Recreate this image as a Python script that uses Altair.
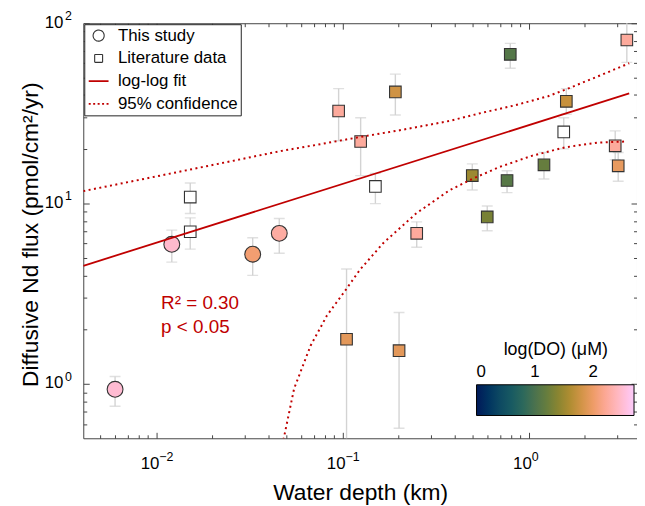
import altair as alt
import pandas as pd

# ---------------- data ----------------
# This study (circles)
STUDY_DEPTH = [0.006, 0.0121, 0.0329, 0.0457]
STUDY_FLUX = [0.934, 5.95, 5.24, 6.84]
STUDY_LO = [0.753, 4.74, 4.00, 5.31]
STUDY_HI = [1.10, 7.13, 6.47, 8.27]
STUDY_LOGDO = [2.50, 2.48, 2.05, 2.27]

# Literature data (squares); None = no DO value (white square)
LIT_DEPTH = [0.0152, 0.0152, 0.0952, 0.125, 0.150, 0.192, 0.25, 0.105, 0.201,
             0.497, 0.598, 0.764, 0.795, 1.206, 1.54, 1.59, 2.91, 3.02, 3.36]
LIT_FLUX = [10.87, 6.98, 32.6, 22.1, 12.45, 41.6, 6.84, 1.77, 1.53,
            14.3, 8.44, 13.43, 67.2, 16.4, 24.97, 36.9, 20.9, 16.2, 80.7]
LIT_LO = [8.81, 5.59, 22.3, 14.3, 10.0, 31.0, 5.73, 0.30, 0.568,
          11.9, 7.07, 11.5, 56.3, 13.7, 20.1, 31.3, 17.5, 13.3, 60.7]
LIT_HI = [13.0, 8.34, 43.4, 29.9, 14.7, 52.2, 7.92, 4.34, 2.49,
          16.6, 9.7, 15.2, 77.3, 19.2, 29.9, 43.4, 25.3, 19.2, 101.0]
LIT_LOGDO = [None, None, 2.24, 2.24, None, 1.78, 2.24, 1.92, 1.92,
             1.50, 1.30, 1.10, 1.08, 1.20, None, 1.73, 2.24, 1.95, 2.24]

# log-log fit (end points)
FIT_X = [0.00405, 3.46]
FIT_Y = [4.52, 40.8]

# 95% confidence curves
UPPER_X = [0.00405, 0.00918, 0.0208, 0.047, 0.073, 0.124, 0.2025, 0.3735,
           0.562, 0.846, 1.27, 1.62, 2.345, 3.46]
UPPER_Y = [11.73, 13.9, 16.5, 19.6, 21.2, 23.4, 25.5, 28.7,
           31.9, 35.1, 39.4, 43.4, 50.7, 60.0]
LOWER_X = [0.0462, 0.0549, 0.0673, 0.0825, 0.1012, 0.124, 0.165, 0.248,
           0.3735, 0.497, 0.689, 1.037, 1.56, 2.345, 3.39]
LOWER_Y = [0.40, 0.942, 1.63, 2.40, 3.20, 4.30, 6.03, 8.81,
           11.83, 13.7, 15.9, 18.4, 20.5, 21.8, 22.1]

# axis ticks
X_MAJOR = [0.01, 0.1, 1]
X_MINOR = [0.005, 0.006, 0.007, 0.008, 0.009,
           0.02, 0.03, 0.04, 0.05, 0.06, 0.07, 0.08, 0.09,
           0.2, 0.3, 0.4, 0.5, 0.6, 0.7, 0.8, 0.9, 2, 3]
Y_MAJOR = [1, 10, 100]
Y_MINOR = [0.6, 0.7, 0.8, 0.9, 2, 3, 4, 5, 6, 7, 8, 9,
           20, 30, 40, 50, 60, 70, 80, 90]

KINDS = ["This study", "Literature data", "log-log fit", "95% confidence"]
CBAR_TICKS = [0, 1, 2]
# batlow colormap stops
BATLOW = ["#011959", "#114360", "#226061", "#4D734D", "#828231",
          "#C09036", "#F19D6B", "#FDB4B4", "#FACCFA"]
CBAR_MAX = 2.7

# ---------------- tables ----------------
err_df = pd.DataFrame({"x": STUDY_DEPTH + LIT_DEPTH,
                       "lo": STUDY_LO + LIT_LO,
                       "hi": STUDY_HI + LIT_HI})
study_df = pd.DataFrame({"x": STUDY_DEPTH, "y": STUDY_FLUX,
                         "logDO": STUDY_LOGDO, "kind": "This study"})
lit_df = pd.DataFrame({"x": LIT_DEPTH, "y": LIT_FLUX,
                       "logDO": LIT_LOGDO, "kind": "Literature data"})
lit_col = lit_df[lit_df["logDO"].notna()].copy()
lit_white = lit_df[lit_df["logDO"].isna()].drop(columns=["logDO"]).copy()
fit_df = pd.DataFrame({"x": FIT_X, "y": FIT_Y})
band_df = pd.concat([
    pd.DataFrame({"x": UPPER_X, "y": UPPER_Y, "band": "upper"}),
    pd.DataFrame({"x": LOWER_X, "y": LOWER_Y, "band": "lower"}),
])
txt_df = pd.DataFrame({"x": [0.0106, 0.0106], "y": [2.82, 2.07],
                       "t": ["R\u00b2 = 0.30", "p < 0.05"]})

# ---------------- styling ----------------
W, H = 559, 419
RED = "#C00000"
GRAY = "#D3D3D3"
AXC = "#444444"
FONT = "Liberation Sans"

xs = alt.Scale(type="log", domain=[0.00405, 3.81], nice=False)
ys = alt.Scale(type="log", domain=[0.5, 100], nice=False)

EXP_EXPR = "format(round(log(datum.value)/LN10), 'd')"
MAJ = "abs(log(datum.value)/LN10 - round(log(datum.value)/LN10)) < 0.001"

# base "10" labels + titles
x_lab = alt.Axis(orient="bottom", values=X_MAJOR, labelExpr="'10'", ticks=False,
                 domain=False, grid=False, labelFontSize=17, labelPadding=18,
                 labelAlign="right", labelOffset=2.5,
                 labelColor="black", title="Water depth (km)", titleFontSize=23,
                 titleFontWeight="normal", titleColor="black", titleBaseline="alphabetic",
                 titleY=62)
y_lab = alt.Axis(orient="left", values=Y_MAJOR, labelExpr="'10'", ticks=False,
                 domain=False, grid=False, labelFontSize=17, labelPadding=20.5,
                 labelOffset=-1,
                 labelColor="black", title="Diffusive Nd flux (pmol/cm\u00b2/yr)",
                 titleFontSize=23, titleFontWeight="normal", titleColor="black",
                 titleBaseline="alphabetic", titleX=-46, titleY=213)
# exponent (superscript) labels
x_exp = alt.Axis(orient="bottom", values=X_MAJOR, labelExpr=EXP_EXPR, ticks=False,
                 domain=False, grid=False, labelFontSize=12.5, labelPadding=12.5,
                 labelAlign="left", labelOffset=2.5, labelColor="black", title=None)
y_exp = alt.Axis(orient="left", values=Y_MAJOR, labelExpr=EXP_EXPR, ticks=False,
                 domain=False, grid=False, labelFontSize=12.5, labelPadding=19,
                 labelAlign="left", labelOffset=-8, labelColor="black", title=None)


def tick_axis(orient, offset, values):
    return alt.Axis(orient=orient, offset=offset, values=values, labels=False,
                    domain=False, grid=False, ticks=True, tickColor=AXC, tickWidth=1,
                    tickSize={"condition": {"test": MAJ, "value": 6}, "value": 3.5},
                    title=None)


X_TICKS = X_MAJOR + X_MINOR
Y_TICKS = Y_MAJOR + Y_MINOR
NOAX = None

shape_scale = alt.Scale(domain=KINDS, range=["circle", "square", "stroke", "stroke"])
stroke_scale = alt.Scale(domain=KINDS, range=["#333333", "#333333", RED, RED])
fill_scale = alt.Scale(domain=[CBAR_MAX * i / (len(BATLOW) - 1) for i in range(len(BATLOW))],
                       range=BATLOW)

IS_LINE = "(datum.value === 'log-log fit' || datum.value === '95% confidence')"
shape_legend = alt.Legend(
    title=None, orient="top-left", offset=1, padding=3, strokeColor="#222",
    fillColor="white", labelFontSize=17, labelColor="black", labelFont=FONT,
    gridAlign="all", rowPadding=5, labelOffset=11, symbolOffset=3,
    symbolFillColor="transparent",
    symbolStrokeColor=alt.ExprRef(expr=IS_LINE + " ? '" + RED + "' : '#111111'"),
    symbolDash=alt.ExprRef(expr="datum.value === '95% confidence' ? [2, 2.5] : [1, 0]"),
    symbolSize=alt.ExprRef(expr="datum.value === 'This study' ? 125 : "
                                "(datum.value === 'Literature data' ? 64 : 400)"),
    symbolStrokeWidth=alt.ExprRef(expr=IS_LINE + " ? 1.8 : 1.1"),
)
fill_legend = alt.Legend(
    title="log(DO) (\u03bcM)", orient="none", legendX=397, legendY=321,
    direction="horizontal", gradientLength=159, gradientThickness=31,
    gradientStrokeColor="black", gradientStrokeWidth=1, values=CBAR_TICKS,
    labelFontSize=17, labelColor="black", labelOffset=alt.ExprRef(expr="-52"),
    titleFontSize=18, titleFontWeight="normal", titleColor="black",
    titleAnchor="middle", titlePadding=26,
)


def X(axis):
    return alt.X("x:Q", scale=xs, axis=axis)


rules = alt.Chart(err_df).mark_rule(color=GRAY, strokeWidth=1.4, clip=True).encode(
    x=X(x_lab), y=alt.Y("lo:Q", scale=ys, axis=y_lab), y2="hi:Q")
caps_lo = alt.Chart(err_df).mark_tick(color=GRAY, orient="horizontal", size=11,
                                      thickness=1.4, clip=True).encode(
    x=X(tick_axis("top", -H, X_TICKS)),
    y=alt.Y("lo:Q", scale=ys, axis=tick_axis("right", -W, Y_TICKS)))
caps_hi = alt.Chart(err_df).mark_tick(color=GRAY, orient="horizontal", size=11,
                                      thickness=1.4, clip=True).encode(
    x=X(tick_axis("bottom", -H, X_TICKS)),
    y=alt.Y("hi:Q", scale=ys, axis=tick_axis("left", -W, Y_TICKS)))

STROKE = alt.Stroke("kind:N", scale=stroke_scale, legend=None)
SHAPE = alt.Shape("kind:N", scale=shape_scale, legend=shape_legend)

circles = alt.Chart(study_df).mark_point(filled=True, strokeWidth=1.1,
                                         opacity=1, size=256).encode(
    x=X(NOAX), y=alt.Y("y:Q", scale=ys, axis=NOAX), shape=SHAPE, stroke=STROKE,
    fill=alt.Fill("logDO:Q", scale=fill_scale, legend=fill_legend))
squares = alt.Chart(lit_col).mark_point(filled=True, strokeWidth=1.1,
                                        opacity=1, size=137).encode(
    x=X(NOAX), y=alt.Y("y:Q", scale=ys, axis=NOAX), shape=SHAPE, stroke=STROKE,
    fill=alt.Fill("logDO:Q", scale=fill_scale, legend=fill_legend))
white_sq = alt.Chart(lit_white).mark_point(filled=True, fill="white",
                                           strokeWidth=1.1, opacity=1, size=137).encode(
    x=X(NOAX), y=alt.Y("y:Q", scale=ys, axis=NOAX), shape=SHAPE, stroke=STROKE)

fit = alt.Chart(fit_df).mark_line(color=RED, strokeWidth=1.8, clip=True).encode(
    x=X(NOAX), y=alt.Y("y:Q", scale=ys, axis=NOAX))
bands = alt.Chart(band_df).mark_line(color=RED, strokeWidth=2, strokeDash=[2, 3.5],
                                     clip=True).encode(
    x=X(NOAX), y=alt.Y("y:Q", scale=ys, axis=NOAX), detail="band:N")

texts = alt.Chart(txt_df).mark_text(color=RED, fontSize=19, align="left",
                                    baseline="middle", font=FONT).encode(
    x=X(x_exp), y=alt.Y("y:Q", scale=ys, axis=y_exp), text="t:N")

chart = alt.layer(rules, caps_lo, caps_hi, circles, squares, white_sq, fit, bands, texts
                  ).resolve_axis(x="independent", y="independent").properties(
    width=W, height=H,
    padding={"left": 76, "top": 13, "right": 0, "bottom": 66},
    autosize=alt.AutoSizeParams(type="none"),
).configure(font=FONT).configure_view(stroke=AXC, strokeWidth=1)

chart.save("out.html", embed_options={"renderer": "svg", "actions": False})
